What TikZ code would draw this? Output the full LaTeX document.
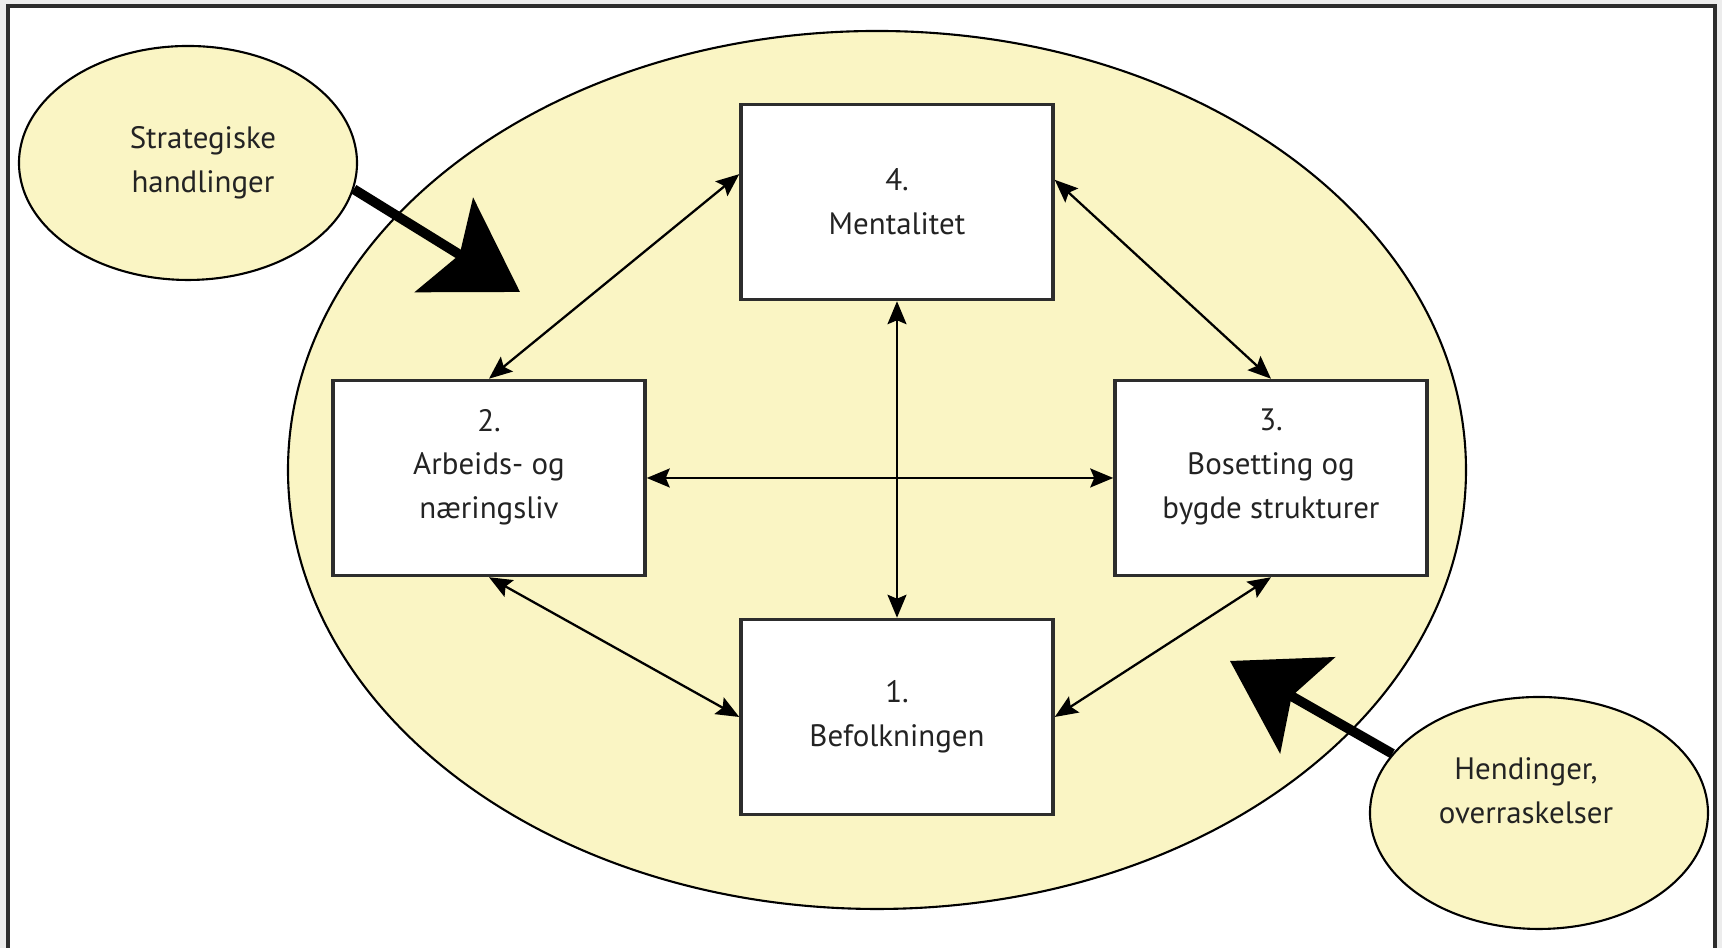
\documentclass[tikz,border=0pt]{standalone}
\usepackage{fontspec}
\setmainfont{PT Sans}
\usetikzlibrary{arrows.meta,shapes.geometric}
\definecolor{pale}{RGB}{250,245,196}
\definecolor{edge}{RGB}{45,45,45}
\definecolor{outside}{RGB}{236,236,236}
\definecolor{ink}{RGB}{35,35,35}

\begin{document}
\begin{tikzpicture}
    \tikzset{%
      box/.style={rectangle, draw=edge, line width=1pt, fill=white,
        minimum width=3.12cm, minimum height=1.95cm, align=center,
        text=ink, font=\fontsize{8.8}{12.5}\selectfont},
      blob/.style={ellipse, draw=black, line width=0.6pt, fill=pale,
        inner sep=0pt},
      word/.style={align=center, text=ink,
        font=\fontsize{8.8}{12.5}\selectfont},
      link/.style={{Stealth[length=2.3mm,width=1.9mm,inset=0.4mm]}-{Stealth[length=2.3mm,width=1.9mm,inset=0.4mm]},
        line width=0.65pt},
      push/.style={-{Stealth[length=8.9mm,width=11cm/10,inset=1.8mm]},
        line width=2.8pt},
    }
    \clip (0,0) rectangle (17.22,9.48);
    \fill[outside] (0,0) rectangle (17.22,9.48);
    \draw[edge, fill=white, line width=0.9pt] (0.08,-0.3) rectangle (17.15,9.42);

    \node[blob, minimum width=11.78cm, minimum height=8.78cm] (E) at (8.77,4.78) {};

    \node[blob, minimum width=3.38cm, minimum height=2.34cm] (S) at (1.88,7.85) {};
    \node[word] (St) at ([xshift=0.15cm]S.center) {Strategiske\\handlinger};

    \node[blob, minimum width=3.38cm, minimum height=2.32cm] (H) at (15.39,1.35) {};
    \node[word] (Ht) at ([xshift=-0.13cm, yshift=0.22cm]H.center) {Hendinger,\\overraskelser};

    \node[box] (N4) at (8.97,7.46) {4.\\Mentalitet};
    \node[box, text depth=0.28cm] (N2) at (4.89,4.70) {2.\\Arbeids- og\\næringsliv};
    \node[box, text depth=0.28cm] (N3) at (12.71,4.70) {3.\\Bosetting og\\bygde strukturer};
    \node[box] (N1) at (8.97,2.31) {1.\\Befolkningen};

    \draw[link] (N2.north) -- (N4.170);
    \draw[link] (N4.8) -- (N3.north);
    \draw[link] (N4.south) -- (N1.north);
    \draw[link] (N2.east) -- (N3.west);
    \draw[link] (N2.south) -- (N1.west);
    \draw[link] (N3.south) -- (N1.east);

    \coordinate (Stip) at (5.20,6.56);
    \draw[push] (S.-9) -- (Stip);
    \coordinate (Htip) at (12.30,2.87);
    \draw[push] (H.158) -- (Htip);
\end{tikzpicture}
\end{document}
